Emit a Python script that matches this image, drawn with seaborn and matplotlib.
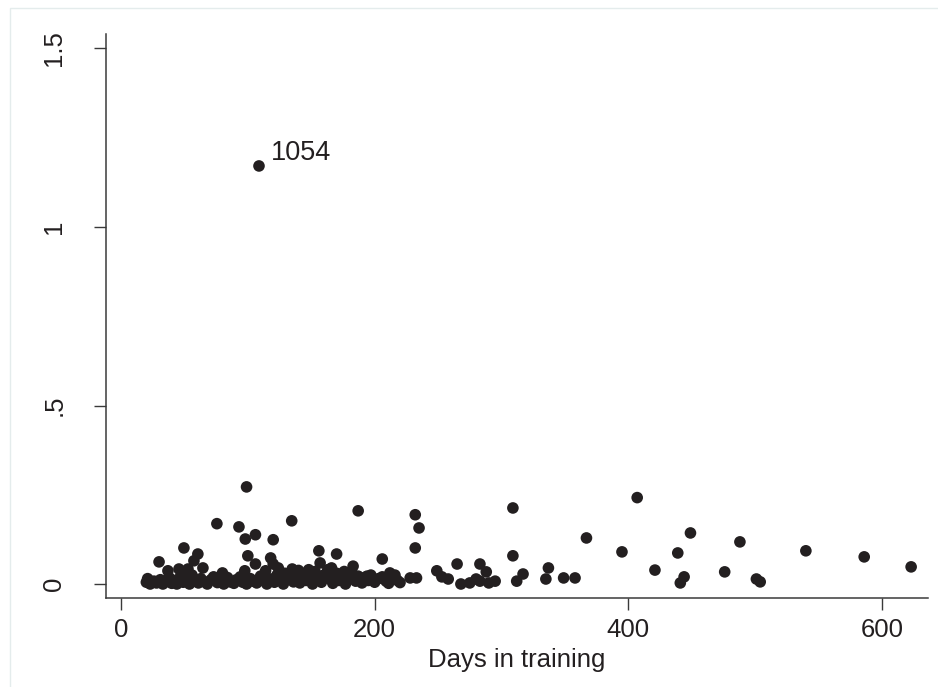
import matplotlib
matplotlib.use("Agg")
import matplotlib.pyplot as plt
import seaborn as sns
import pandas as pd
from matplotlib.patches import Rectangle

# ---- data ----
days = [108.8, 99, 75.6, 93, 98, 106, 134.6, 120, 49.6, 30, 60.6, 57.5, 64.6, 100, 106, 118,
        120, 114, 37, 45.7, 52.8, 80, 97.6, 135,
        156, 170, 157, 206, 183, 187, 232, 235, 232, 265, 283, 288, 283, 290, 295, 249, 253,
        258, 268, 275, 280, 228, 233, 212,
        309, 309, 312, 317, 335, 337, 349, 358, 367, 395, 407, 421, 439, 441, 444, 449, 476,
        488, 501, 504, 540, 586, 623,
        20, 21, 23, 26, 28, 31, 33, 35, 38, 40, 42, 44, 47, 49, 51, 54, 56, 58, 61, 63, 66,
        68, 71, 73, 76, 78, 81, 84, 86, 89, 91, 94, 96, 99, 102, 104, 107, 110, 112, 115, 118,
        121, 123, 126, 128, 131, 133, 136, 138, 141, 143, 146, 148, 151, 153, 155, 158, 160,
        163, 165, 167, 170, 172, 175, 177, 180, 182, 185, 187, 190, 192, 195, 197, 200, 203,
        206, 209, 211, 214, 216, 218, 220, 124, 140, 129, 148, 166, 176, 194]
values = [1.171, 0.272, 0.169, 0.160, 0.126, 0.138, 0.177, 0.124, 0.101, 0.062, 0.084, 0.065,
          0.045, 0.079, 0.056, 0.073, 0.056, 0.037, 0.037, 0.042, 0.042, 0.031, 0.037, 0.042,
          0.093, 0.084, 0.059, 0.070, 0.050, 0.205, 0.194, 0.157, 0.101, 0.056, 0.056, 0.034,
          0.008, 0.003, 0.008, 0.037, 0.020, 0.014, 0.000, 0.003, 0.014, 0.017, 0.017, 0.031,
          0.213, 0.079, 0.008, 0.028, 0.014, 0.045, 0.017, 0.017, 0.129, 0.090, 0.242, 0.039,
          0.087, 0.003, 0.020, 0.143, 0.034, 0.118, 0.014, 0.006, 0.093, 0.076, 0.048,
          0.005, 0.015, 0.000, 0.008, 0.003, 0.012, 0.000, 0.006, 0.018, 0.002, 0.010, 0.000,
          0.022, 0.005, 0.013, 0.000, 0.025, 0.008, 0.003, 0.015, 0.006, 0.000, 0.012, 0.020,
          0.004, 0.010, 0.000, 0.018, 0.006, 0.002, 0.012, 0.020, 0.005, 0.000, 0.015, 0.008,
          0.003, 0.022, 0.010, 0.000, 0.014, 0.005, 0.025, 0.009, 0.000, 0.018, 0.028, 0.006,
          0.015, 0.003, 0.030, 0.010, 0.020, 0.000, 0.035, 0.012, 0.005, 0.025, 0.040, 0.015,
          0.002, 0.030, 0.010, 0.020, 0.000, 0.015, 0.032, 0.008, 0.022, 0.003, 0.018, 0.010,
          0.025, 0.005, 0.015, 0.020, 0.008, 0.002, 0.018, 0.025, 0.010, 0.004, 0.045, 0.038,
          0.030, 0.040, 0.045, 0.035, 0.022]
outlier_label = "1054"
outlier_day = 108.8
outlier_value = 1.171

x_ticks = [0, 200, 400, 600]
x_tick_labels = ["0", "200", "400", "600"]
y_ticks = [0, 0.5, 1, 1.5]
y_tick_labels = ["0", ".5", "1", "1.5"]
x_label = "Days in training"

df = pd.DataFrame({"days": days, "value": values})

sns.set_style("white")
plt.rcParams["font.family"] = ["Liberation Sans", "DejaVu Sans"]

fig = plt.figure(figsize=(9.38, 6.87), dpi=100)
ax = fig.add_axes([106 / 938, 1 - 598 / 687, (928 - 106) / 938, (598 - 34) / 687])

sns.scatterplot(data=df, x="days", y="value", ax=ax, color="#231f20", s=70,
                linewidth=0, edgecolor="none", legend=False)

ax.annotate(outlier_label, xy=(outlier_day, outlier_value), xytext=(8.5, 4.5),
            textcoords="offset points", ha="left", va="baseline", fontsize=19.5,
            color="#231f20")

ax.set_xlim(-11.83, 636.3)
ax.set_ylim(-0.0392, 1.5406)
ax.set_xticks(x_ticks)
ax.set_xticklabels(x_tick_labels)
ax.set_yticks(y_ticks)
ax.set_yticklabels(y_tick_labels, rotation=90, va="center")
ax.set_xlabel(x_label, fontsize=18.5, color="#231f20", labelpad=4)
ax.set_ylabel("")

for side in ["top", "right"]:
    ax.spines[side].set_visible(False)
for side in ["left", "bottom"]:
    ax.spines[side].set_color("#3a3a3a")
    ax.spines[side].set_linewidth(1.1)

ax.tick_params(axis="both", direction="out", length=8.5, width=1.0, color="#3a3a3a",
               labelsize=18.5, labelcolor="#231f20")
ax.tick_params(axis="x", pad=6, bottom=True)
ax.tick_params(axis="y", pad=20, left=True)

# faint outer graph-region frame
fig.add_artist(Rectangle((10 / 938, -0.05), 1.2, 1 - 8 / 687 + 0.05, transform=fig.transFigure,
                         fill=False, edgecolor="#e4ecec", linewidth=1.0))

fig.savefig("out.png", dpi=100, facecolor="white")
